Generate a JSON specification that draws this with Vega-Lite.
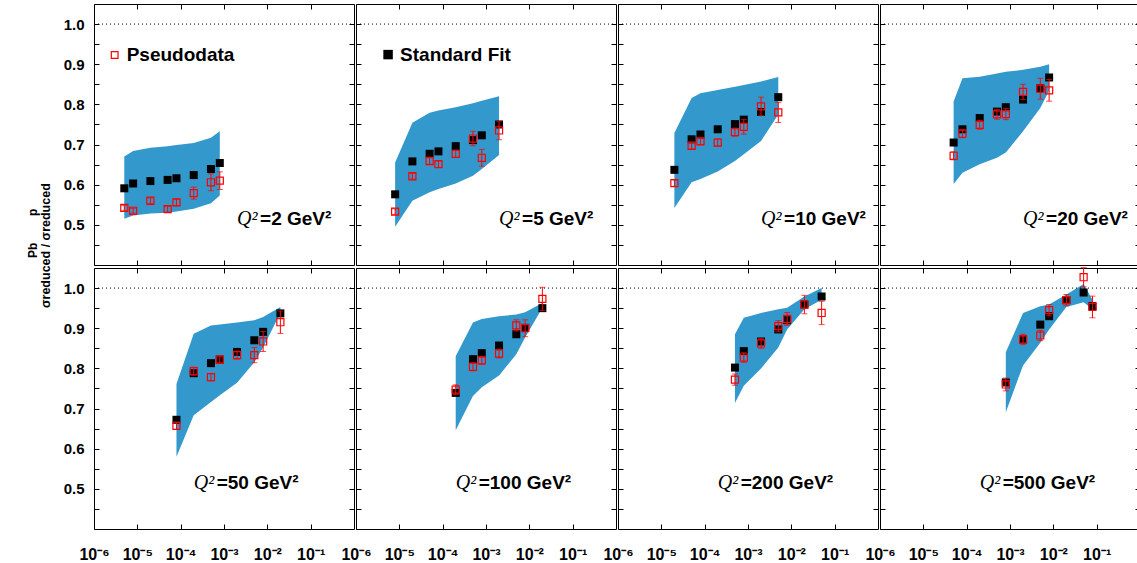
{
  "$schema": "https://vega.github.io/schema/vega-lite/v6.json",
  "padding": {"left": 26, "top": 3, "right": 0, "bottom": 0},
  "background": "white",
  "title": {
    "text": "\u200b\u00a0\u00a0\u00a0\u00a0\u00a0\u00a0\u00a0\u00a0\u00a0\u00a0\u00a0\u00a0\u00a0\u00a0\u00a0Pb\u00a0\u00a0\u00a0\u00a0\u00a0\u00a0\u00a0\u00a0p",
    "subtitle": "σreduced / σreduced",
    "orient": "left",
    "anchor": "start",
    "frame": "bounds",
    "font": "Liberation Sans",
    "fontSize": 12,
    "fontWeight": "bold",
    "color": "#000",
    "subtitleFont": "Liberation Sans",
    "subtitleFontSize": 12.5,
    "subtitleFontWeight": "bold",
    "subtitleColor": "#000",
    "subtitlePadding": 0,
    "offset": 10,
    "dx": 254
  },
  "data": {
    "values": [
      {"Q2": 2, "s": "band", "x": 5e-6, "y": 0.515, "y2": 0.670},
      {"Q2": 2, "s": "band", "x": 8e-6, "y": 0.523, "y2": 0.684},
      {"Q2": 2, "s": "band", "x": 2e-5, "y": 0.528, "y2": 0.692},
      {"Q2": 2, "s": "band", "x": 5e-5, "y": 0.530, "y2": 0.696},
      {"Q2": 2, "s": "band", "x": 8e-5, "y": 0.533, "y2": 0.699},
      {"Q2": 2, "s": "band", "x": 2e-4, "y": 0.540, "y2": 0.704},
      {"Q2": 2, "s": "band", "x": 5e-4, "y": 0.554, "y2": 0.717},
      {"Q2": 2, "s": "band", "x": 8e-4, "y": 0.573, "y2": 0.733},
      {"Q2": 2, "s": "fit", "x": 5e-6, "y": 0.591},
      {"Q2": 2, "s": "fit", "x": 8e-6, "y": 0.603},
      {"Q2": 2, "s": "fit", "x": 2e-5, "y": 0.609},
      {"Q2": 2, "s": "fit", "x": 5e-5, "y": 0.612},
      {"Q2": 2, "s": "fit", "x": 8e-5, "y": 0.616},
      {"Q2": 2, "s": "fit", "x": 2e-4, "y": 0.624},
      {"Q2": 2, "s": "fit", "x": 5e-4, "y": 0.639},
      {"Q2": 2, "s": "fit", "x": 8e-4, "y": 0.654},
      {"Q2": 2, "s": "pd", "x": 5e-6, "y": 0.542, "err": 0.006},
      {"Q2": 2, "s": "pd", "x": 8e-6, "y": 0.535, "err": 0.006},
      {"Q2": 2, "s": "pd", "x": 2e-5, "y": 0.560, "err": 0.007},
      {"Q2": 2, "s": "pd", "x": 5e-5, "y": 0.539, "err": 0.007},
      {"Q2": 2, "s": "pd", "x": 8e-5, "y": 0.556, "err": 0.008},
      {"Q2": 2, "s": "pd", "x": 2e-4, "y": 0.579, "err": 0.015},
      {"Q2": 2, "s": "pd", "x": 5e-4, "y": 0.606, "err": 0.021},
      {"Q2": 2, "s": "pd", "x": 8e-4, "y": 0.610, "err": 0.022},

      {"Q2": 5, "s": "band", "x": 8e-6, "y": 0.495, "y2": 0.655},
      {"Q2": 5, "s": "band", "x": 2e-5, "y": 0.560, "y2": 0.754},
      {"Q2": 5, "s": "band", "x": 5e-5, "y": 0.581, "y2": 0.779},
      {"Q2": 5, "s": "band", "x": 8e-5, "y": 0.589, "y2": 0.785},
      {"Q2": 5, "s": "band", "x": 2e-4, "y": 0.603, "y2": 0.793},
      {"Q2": 5, "s": "band", "x": 5e-4, "y": 0.622, "y2": 0.803},
      {"Q2": 5, "s": "band", "x": 8e-4, "y": 0.639, "y2": 0.809},
      {"Q2": 5, "s": "band", "x": 2e-3, "y": 0.674, "y2": 0.820},
      {"Q2": 5, "s": "fit", "x": 8e-6, "y": 0.576},
      {"Q2": 5, "s": "fit", "x": 2e-5, "y": 0.658},
      {"Q2": 5, "s": "fit", "x": 5e-5, "y": 0.677},
      {"Q2": 5, "s": "fit", "x": 8e-5, "y": 0.683},
      {"Q2": 5, "s": "fit", "x": 2e-4, "y": 0.696},
      {"Q2": 5, "s": "fit", "x": 5e-4, "y": 0.711},
      {"Q2": 5, "s": "fit", "x": 8e-4, "y": 0.723},
      {"Q2": 5, "s": "fit", "x": 2e-3, "y": 0.750},
      {"Q2": 5, "s": "pd", "x": 8e-6, "y": 0.533, "err": 0.007},
      {"Q2": 5, "s": "pd", "x": 2e-5, "y": 0.621, "err": 0.007},
      {"Q2": 5, "s": "pd", "x": 5e-5, "y": 0.659, "err": 0.008},
      {"Q2": 5, "s": "pd", "x": 8e-5, "y": 0.651, "err": 0.008},
      {"Q2": 5, "s": "pd", "x": 2e-4, "y": 0.677, "err": 0.009},
      {"Q2": 5, "s": "pd", "x": 5e-4, "y": 0.715, "err": 0.018},
      {"Q2": 5, "s": "pd", "x": 8e-4, "y": 0.667, "err": 0.021},
      {"Q2": 5, "s": "pd", "x": 2e-3, "y": 0.735, "err": 0.023},

      {"Q2": 10, "s": "band", "x": 2e-5, "y": 0.542, "y2": 0.729},
      {"Q2": 10, "s": "band", "x": 5e-5, "y": 0.606, "y2": 0.816},
      {"Q2": 10, "s": "band", "x": 8e-5, "y": 0.614, "y2": 0.828},
      {"Q2": 10, "s": "band", "x": 2e-4, "y": 0.633, "y2": 0.836},
      {"Q2": 10, "s": "band", "x": 5e-4, "y": 0.659, "y2": 0.844},
      {"Q2": 10, "s": "band", "x": 8e-4, "y": 0.676, "y2": 0.848},
      {"Q2": 10, "s": "band", "x": 2e-3, "y": 0.709, "y2": 0.857},
      {"Q2": 10, "s": "band", "x": 5e-3, "y": 0.775, "y2": 0.868},
      {"Q2": 10, "s": "fit", "x": 2e-5, "y": 0.637},
      {"Q2": 10, "s": "fit", "x": 5e-5, "y": 0.713},
      {"Q2": 10, "s": "fit", "x": 8e-5, "y": 0.725},
      {"Q2": 10, "s": "fit", "x": 2e-4, "y": 0.738},
      {"Q2": 10, "s": "fit", "x": 5e-4, "y": 0.751},
      {"Q2": 10, "s": "fit", "x": 8e-4, "y": 0.762},
      {"Q2": 10, "s": "fit", "x": 2e-3, "y": 0.781},
      {"Q2": 10, "s": "fit", "x": 5e-3, "y": 0.818},
      {"Q2": 10, "s": "pd", "x": 2e-5, "y": 0.604, "err": 0.008},
      {"Q2": 10, "s": "pd", "x": 5e-5, "y": 0.697, "err": 0.008},
      {"Q2": 10, "s": "pd", "x": 8e-5, "y": 0.708, "err": 0.008},
      {"Q2": 10, "s": "pd", "x": 2e-4, "y": 0.705, "err": 0.009},
      {"Q2": 10, "s": "pd", "x": 5e-4, "y": 0.731, "err": 0.010},
      {"Q2": 10, "s": "pd", "x": 8e-4, "y": 0.744, "err": 0.018},
      {"Q2": 10, "s": "pd", "x": 2e-3, "y": 0.795, "err": 0.023},
      {"Q2": 10, "s": "pd", "x": 5e-3, "y": 0.780, "err": 0.025},

      {"Q2": 20, "s": "band", "x": 5e-5, "y": 0.602, "y2": 0.807},
      {"Q2": 20, "s": "band", "x": 8e-5, "y": 0.630, "y2": 0.865},
      {"Q2": 20, "s": "band", "x": 2e-4, "y": 0.651, "y2": 0.869},
      {"Q2": 20, "s": "band", "x": 5e-4, "y": 0.667, "y2": 0.877},
      {"Q2": 20, "s": "band", "x": 8e-4, "y": 0.680, "y2": 0.881},
      {"Q2": 20, "s": "band", "x": 2e-3, "y": 0.733, "y2": 0.886},
      {"Q2": 20, "s": "band", "x": 5e-3, "y": 0.791, "y2": 0.894},
      {"Q2": 20, "s": "band", "x": 8e-3, "y": 0.834, "y2": 0.900},
      {"Q2": 20, "s": "fit", "x": 5e-5, "y": 0.705},
      {"Q2": 20, "s": "fit", "x": 8e-5, "y": 0.738},
      {"Q2": 20, "s": "fit", "x": 2e-4, "y": 0.766},
      {"Q2": 20, "s": "fit", "x": 5e-4, "y": 0.782},
      {"Q2": 20, "s": "fit", "x": 8e-4, "y": 0.793},
      {"Q2": 20, "s": "fit", "x": 2e-3, "y": 0.812},
      {"Q2": 20, "s": "fit", "x": 5e-3, "y": 0.840},
      {"Q2": 20, "s": "fit", "x": 8e-3, "y": 0.867},
      {"Q2": 20, "s": "pd", "x": 5e-5, "y": 0.672, "err": 0.010},
      {"Q2": 20, "s": "pd", "x": 8e-5, "y": 0.727, "err": 0.010},
      {"Q2": 20, "s": "pd", "x": 2e-4, "y": 0.749, "err": 0.011},
      {"Q2": 20, "s": "pd", "x": 5e-4, "y": 0.775, "err": 0.012},
      {"Q2": 20, "s": "pd", "x": 8e-4, "y": 0.776, "err": 0.014},
      {"Q2": 20, "s": "pd", "x": 2e-3, "y": 0.831, "err": 0.019},
      {"Q2": 20, "s": "pd", "x": 5e-3, "y": 0.839, "err": 0.026},
      {"Q2": 20, "s": "pd", "x": 8e-3, "y": 0.835, "err": 0.027},

      {"Q2": 50, "s": "band", "x": 8e-5, "y": 0.580, "y2": 0.761},
      {"Q2": 50, "s": "band", "x": 2e-4, "y": 0.683, "y2": 0.886},
      {"Q2": 50, "s": "band", "x": 5e-4, "y": 0.716, "y2": 0.907},
      {"Q2": 50, "s": "band", "x": 8e-4, "y": 0.733, "y2": 0.909},
      {"Q2": 50, "s": "band", "x": 2e-3, "y": 0.764, "y2": 0.914},
      {"Q2": 50, "s": "band", "x": 5e-3, "y": 0.815, "y2": 0.920},
      {"Q2": 50, "s": "band", "x": 8e-3, "y": 0.852, "y2": 0.928},
      {"Q2": 50, "s": "band", "x": 2e-2, "y": 0.938, "y2": 0.953},
      {"Q2": 50, "s": "fit", "x": 8e-5, "y": 0.672},
      {"Q2": 50, "s": "fit", "x": 2e-4, "y": 0.788},
      {"Q2": 50, "s": "fit", "x": 5e-4, "y": 0.813},
      {"Q2": 50, "s": "fit", "x": 8e-4, "y": 0.822},
      {"Q2": 50, "s": "fit", "x": 2e-3, "y": 0.841},
      {"Q2": 50, "s": "fit", "x": 5e-3, "y": 0.870},
      {"Q2": 50, "s": "fit", "x": 8e-3, "y": 0.891},
      {"Q2": 50, "s": "fit", "x": 2e-2, "y": 0.937},
      {"Q2": 50, "s": "pd", "x": 8e-5, "y": 0.657, "err": 0.009},
      {"Q2": 50, "s": "pd", "x": 2e-4, "y": 0.793, "err": 0.010},
      {"Q2": 50, "s": "pd", "x": 5e-4, "y": 0.778, "err": 0.009},
      {"Q2": 50, "s": "pd", "x": 8e-4, "y": 0.822, "err": 0.009},
      {"Q2": 50, "s": "pd", "x": 2e-3, "y": 0.833, "err": 0.010},
      {"Q2": 50, "s": "pd", "x": 5e-3, "y": 0.833, "err": 0.019},
      {"Q2": 50, "s": "pd", "x": 8e-3, "y": 0.867, "err": 0.025},
      {"Q2": 50, "s": "pd", "x": 2e-2, "y": 0.915, "err": 0.028},

      {"Q2": 100, "s": "band", "x": 2e-4, "y": 0.646, "y2": 0.830},
      {"Q2": 100, "s": "band", "x": 5e-4, "y": 0.731, "y2": 0.914},
      {"Q2": 100, "s": "band", "x": 8e-4, "y": 0.753, "y2": 0.923},
      {"Q2": 100, "s": "band", "x": 2e-3, "y": 0.782, "y2": 0.930},
      {"Q2": 100, "s": "band", "x": 5e-3, "y": 0.835, "y2": 0.934},
      {"Q2": 100, "s": "band", "x": 8e-3, "y": 0.877, "y2": 0.940},
      {"Q2": 100, "s": "band", "x": 2e-2, "y": 0.951, "y2": 0.963},
      {"Q2": 100, "s": "fit", "x": 2e-4, "y": 0.739},
      {"Q2": 100, "s": "fit", "x": 5e-4, "y": 0.823},
      {"Q2": 100, "s": "fit", "x": 8e-4, "y": 0.838},
      {"Q2": 100, "s": "fit", "x": 2e-3, "y": 0.857},
      {"Q2": 100, "s": "fit", "x": 5e-3, "y": 0.885},
      {"Q2": 100, "s": "fit", "x": 8e-3, "y": 0.901},
      {"Q2": 100, "s": "fit", "x": 2e-2, "y": 0.950},
      {"Q2": 100, "s": "pd", "x": 2e-4, "y": 0.747, "err": 0.012},
      {"Q2": 100, "s": "pd", "x": 5e-4, "y": 0.804, "err": 0.010},
      {"Q2": 100, "s": "pd", "x": 8e-4, "y": 0.820, "err": 0.010},
      {"Q2": 100, "s": "pd", "x": 2e-3, "y": 0.837, "err": 0.011},
      {"Q2": 100, "s": "pd", "x": 5e-3, "y": 0.907, "err": 0.014},
      {"Q2": 100, "s": "pd", "x": 8e-3, "y": 0.900, "err": 0.021},
      {"Q2": 100, "s": "pd", "x": 2e-2, "y": 0.973, "err": 0.029},

      {"Q2": 200, "s": "band", "x": 5e-4, "y": 0.714, "y2": 0.885},
      {"Q2": 200, "s": "band", "x": 8e-4, "y": 0.757, "y2": 0.926},
      {"Q2": 200, "s": "band", "x": 2e-3, "y": 0.800, "y2": 0.938},
      {"Q2": 200, "s": "band", "x": 5e-3, "y": 0.852, "y2": 0.947},
      {"Q2": 200, "s": "band", "x": 8e-3, "y": 0.897, "y2": 0.951},
      {"Q2": 200, "s": "band", "x": 2e-2, "y": 0.947, "y2": 0.979},
      {"Q2": 200, "s": "band", "x": 5e-2, "y": 0.971, "y2": 1.000},
      {"Q2": 200, "s": "fit", "x": 5e-4, "y": 0.802},
      {"Q2": 200, "s": "fit", "x": 8e-4, "y": 0.843},
      {"Q2": 200, "s": "fit", "x": 2e-3, "y": 0.867},
      {"Q2": 200, "s": "fit", "x": 5e-3, "y": 0.897},
      {"Q2": 200, "s": "fit", "x": 8e-3, "y": 0.920},
      {"Q2": 200, "s": "fit", "x": 2e-2, "y": 0.959},
      {"Q2": 200, "s": "fit", "x": 5e-2, "y": 0.979},
      {"Q2": 200, "s": "pd", "x": 5e-4, "y": 0.772, "err": 0.014},
      {"Q2": 200, "s": "pd", "x": 8e-4, "y": 0.827, "err": 0.012},
      {"Q2": 200, "s": "pd", "x": 2e-3, "y": 0.862, "err": 0.012},
      {"Q2": 200, "s": "pd", "x": 5e-3, "y": 0.905, "err": 0.014},
      {"Q2": 200, "s": "pd", "x": 8e-3, "y": 0.923, "err": 0.016},
      {"Q2": 200, "s": "pd", "x": 2e-2, "y": 0.959, "err": 0.023},
      {"Q2": 200, "s": "pd", "x": 5e-2, "y": 0.938, "err": 0.029},

      {"Q2": 500, "s": "band", "x": 8e-4, "y": 0.691, "y2": 0.840},
      {"Q2": 500, "s": "band", "x": 2e-3, "y": 0.807, "y2": 0.938},
      {"Q2": 500, "s": "band", "x": 5e-3, "y": 0.864, "y2": 0.955},
      {"Q2": 500, "s": "band", "x": 8e-3, "y": 0.897, "y2": 0.959},
      {"Q2": 500, "s": "band", "x": 2e-2, "y": 0.953, "y2": 0.984},
      {"Q2": 500, "s": "band", "x": 5e-2, "y": 0.965, "y2": 1.010},
      {"Q2": 500, "s": "band", "x": 8e-2, "y": 0.948, "y2": 0.971},
      {"Q2": 500, "s": "fit", "x": 8e-4, "y": 0.765},
      {"Q2": 500, "s": "fit", "x": 2e-3, "y": 0.872},
      {"Q2": 500, "s": "fit", "x": 5e-3, "y": 0.909},
      {"Q2": 500, "s": "fit", "x": 8e-3, "y": 0.930},
      {"Q2": 500, "s": "fit", "x": 2e-2, "y": 0.970},
      {"Q2": 500, "s": "fit", "x": 5e-2, "y": 0.989},
      {"Q2": 500, "s": "fit", "x": 8e-2, "y": 0.955},
      {"Q2": 500, "s": "pd", "x": 8e-4, "y": 0.760, "err": 0.016},
      {"Q2": 500, "s": "pd", "x": 2e-3, "y": 0.872, "err": 0.013},
      {"Q2": 500, "s": "pd", "x": 5e-3, "y": 0.882, "err": 0.013},
      {"Q2": 500, "s": "pd", "x": 8e-3, "y": 0.945, "err": 0.014},
      {"Q2": 500, "s": "pd", "x": 2e-2, "y": 0.970, "err": 0.014},
      {"Q2": 500, "s": "pd", "x": 5e-2, "y": 1.027, "err": 0.024},
      {"Q2": 500, "s": "pd", "x": 8e-2, "y": 0.953, "err": 0.027},

      {"Q2": 2, "s": "label", "x": 0.002, "y": 0.5, "label": "=2 GeV²"},
      {"Q2": 5, "s": "label", "x": 0.002, "y": 0.5, "label": "=5 GeV²"},
      {"Q2": 10, "s": "label", "x": 0.002, "y": 0.5, "label": "=10 GeV²"},
      {"Q2": 20, "s": "label", "x": 0.002, "y": 0.5, "label": "=20 GeV²"},
      {"Q2": 50, "s": "label", "x": 0.0002, "y": 0.5, "label": "=50 GeV²"},
      {"Q2": 100, "s": "label", "x": 0.0002, "y": 0.5, "label": "=100 GeV²"},
      {"Q2": 200, "s": "label", "x": 0.0002, "y": 0.5, "label": "=200 GeV²"},
      {"Q2": 500, "s": "label", "x": 0.0002, "y": 0.5, "label": "=500 GeV²"},

      {"Q2": 2, "s": "keypd", "x": 3e-6, "y": 0.923, "key": "Pseudodata"},
      {"Q2": 5, "s": "keyfit", "x": 5.5e-6, "y": 0.924, "key": "Standard Fit"}
    ]
  },
  "spacing": 0,
  "vconcat": [
    {
      "transform": [{"filter": "datum.Q2 < 50"}],
      "facet": {"column": {"field": "Q2", "type": "ordinal", "sort": [2, 5, 10, 20], "header": {"labels": false, "title": null}}},
      "spacing": 0,
      "spec": {
        "width": 260,
        "height": 261,
        "encoding": {
          "x": {
            "field": "x", "type": "quantitative",
            "scale": {"type": "log", "domain": [0.000001, 1], "nice": false},
            "axis": {"title": null, "values": [0.000001, 0.00001, 0.0001, 0.001, 0.01, 0.1], "labels": false, "ticks": false, "domain": false, "grid": true, "gridDash": [5, 251], "gridColor": "#000", "gridOpacity": 1, "gridWidth": 1}
          },
          "y": {
            "field": "y", "type": "quantitative",
            "scale": {"domain": [0.4, 1.05], "nice": false, "zero": false},
            "axis": {
              "title": null,
              "values": [0.45, 0.5, 0.55, 0.6, 0.65, 0.7, 0.75, 0.8, 0.85, 0.9, 0.95, 1.0],
              "labelExpr": "round(datum.value * 100) % 10 == 0 ? format(datum.value, '.1f') : ''",
              "ticks": false, "domain": false, "grid": true, "gridDash": [5, 250], "gridColor": "#000", "gridOpacity": 1, "gridWidth": 1,
              "labelFont": "Liberation Sans", "labelFontWeight": "bold", "labelFontSize": 15, "labelColor": "#000", "labelPadding": 9
            }
          }
        },
        "layer": [
          {"transform": [{"filter": "datum.s == 'band'"}], "mark": {"type": "area", "color": "#3399cc", "opacity": 1}, "encoding": {"y2": {"field": "y2"}}},
          {"transform": [{"filter": "datum.s == 'label'"}], "mark": {"type": "rule", "color": "#000", "strokeDash": [1, 3], "strokeWidth": 1}, "encoding": {"x": {"datum": 0.000001, "type": "quantitative"}, "x2": {"datum": 1}, "y": {"datum": 1, "type": "quantitative"}}},
          {"transform": [{"filter": "datum.s == 'fit'"}], "mark": {"type": "square", "filled": true, "color": "#000", "size": 64, "opacity": 1}},
          {"transform": [{"filter": "datum.s == 'pd'"}], "mark": {"type": "square", "filled": false, "color": "#ff0000", "size": 50, "strokeWidth": 1.2, "opacity": 1}},
          {"transform": [{"filter": "datum.s == 'pd'"}], "mark": {"type": "errorbar", "color": "#ff0000", "ticks": {"size": 6, "color": "#ff0000"}, "rule": {"color": "#ff0000"}}, "encoding": {"yError": {"field": "err"}}},
          {"transform": [{"filter": "datum.s == 'label'"}], "mark": {"type": "text", "text": "Q²", "font": "Liberation Serif", "fontStyle": "italic", "fontSize": 20, "align": "left", "baseline": "alphabetic", "color": "#000"}},
          {"transform": [{"filter": "datum.s == 'label'"}], "mark": {"type": "text", "font": "Liberation Sans", "fontWeight": "bold", "fontSize": 19, "align": "left", "baseline": "alphabetic", "dx": 23, "color": "#000"}, "encoding": {"text": {"field": "label"}}},
          {"transform": [{"filter": "datum.s == 'keypd'"}], "mark": {"type": "square", "filled": false, "color": "#ff0000", "size": 45, "strokeWidth": 1.2, "opacity": 1}},
          {"transform": [{"filter": "datum.s == 'keyfit'"}], "mark": {"type": "square", "filled": true, "color": "#000", "size": 90, "opacity": 1}},
          {"transform": [{"filter": "isValid(datum.key)"}], "mark": {"type": "text", "font": "Liberation Sans", "fontWeight": "bold", "fontSize": 19, "align": "left", "baseline": "middle", "dx": 12, "color": "#000"}, "encoding": {"text": {"field": "key"}}}
        ]
      }
    },
    {
      "transform": [{"filter": "datum.Q2 >= 50"}],
      "facet": {"column": {"field": "Q2", "type": "ordinal", "sort": [50, 100, 200, 500], "header": {"labels": false, "title": null}}},
      "spacing": 0,
      "spec": {
        "width": 260,
        "height": 261,
        "encoding": {
          "x": {
            "field": "x", "type": "quantitative",
            "scale": {"type": "log", "domain": [0.000001, 1], "nice": false},
            "axis": {
              "title": null,
              "values": [0.000001, 0.00001, 0.0001, 0.001, 0.01, 0.1],
              "labelExpr": "'10' + (datum.value < 0.000005 ? '⁻⁶' : datum.value < 0.00005 ? '⁻⁵' : datum.value < 0.0005 ? '⁻⁴' : datum.value < 0.005 ? '⁻³' : datum.value < 0.05 ? '⁻²' : '⁻¹')",
              "ticks": false, "domain": false, "grid": true, "gridDash": [5, 251], "gridColor": "#000", "gridOpacity": 1, "gridWidth": 1,
              "labelFlush": false, "labelOverlap": false,
              "labelFont": "Liberation Sans", "labelFontWeight": "bold", "labelFontSize": 16, "labelColor": "#000", "labelPadding": 16
            }
          },
          "y": {
            "field": "y", "type": "quantitative",
            "scale": {"domain": [0.4, 1.05], "nice": false, "zero": false},
            "axis": {
              "title": null,
              "values": [0.45, 0.5, 0.55, 0.6, 0.65, 0.7, 0.75, 0.8, 0.85, 0.9, 0.95, 1.0],
              "labelExpr": "round(datum.value * 100) % 10 == 0 ? format(datum.value, '.1f') : ''",
              "ticks": false, "domain": false, "grid": true, "gridDash": [5, 250], "gridColor": "#000", "gridOpacity": 1, "gridWidth": 1,
              "labelFont": "Liberation Sans", "labelFontWeight": "bold", "labelFontSize": 15, "labelColor": "#000", "labelPadding": 9
            }
          }
        },
        "layer": [
          {"transform": [{"filter": "datum.s == 'band'"}], "mark": {"type": "area", "color": "#3399cc", "opacity": 1}, "encoding": {"y2": {"field": "y2"}}},
          {"transform": [{"filter": "datum.s == 'label'"}], "mark": {"type": "rule", "color": "#000", "strokeDash": [1, 3], "strokeWidth": 1}, "encoding": {"x": {"datum": 0.000001, "type": "quantitative"}, "x2": {"datum": 1}, "y": {"datum": 1, "type": "quantitative"}}},
          {"transform": [{"filter": "datum.s == 'fit'"}], "mark": {"type": "square", "filled": true, "color": "#000", "size": 64, "opacity": 1}},
          {"transform": [{"filter": "datum.s == 'pd'"}], "mark": {"type": "square", "filled": false, "color": "#ff0000", "size": 50, "strokeWidth": 1.2, "opacity": 1}},
          {"transform": [{"filter": "datum.s == 'pd'"}], "mark": {"type": "errorbar", "color": "#ff0000", "ticks": {"size": 6, "color": "#ff0000"}, "rule": {"color": "#ff0000"}}, "encoding": {"yError": {"field": "err"}}},
          {"transform": [{"filter": "datum.s == 'label'"}], "mark": {"type": "text", "text": "Q²", "font": "Liberation Serif", "fontStyle": "italic", "fontSize": 20, "align": "left", "baseline": "alphabetic", "color": "#000"}},
          {"transform": [{"filter": "datum.s == 'label'"}], "mark": {"type": "text", "font": "Liberation Sans", "fontWeight": "bold", "fontSize": 19, "align": "left", "baseline": "alphabetic", "dx": 23, "color": "#000"}, "encoding": {"text": {"field": "label"}}}
        ]
      }
    }
  ],
  "config": {
    "view": {"stroke": "#000", "strokeWidth": 1},
    "header": {"labels": false, "title": null, "labelPadding": 0, "titlePadding": 0}
  }
}
